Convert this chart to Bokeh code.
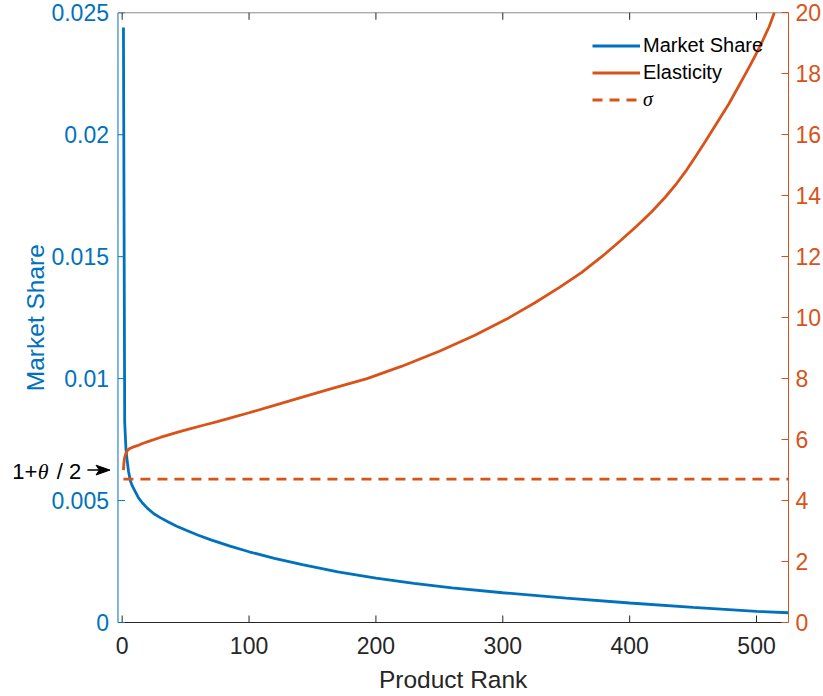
import math
from bokeh.plotting import figure
from bokeh.models import Range1d, LinearAxis, FixedTicker, Legend, LegendItem
from bokeh.core.properties import value
from bokeh.embed import file_html
from bokeh.resources import INLINE

# ---------------- data ----------------
share_rank = [1, 2, 3, 4, 5, 6.5, 8, 10, 13, 16, 20, 25, 30, 36, 43, 50, 60, 70,
              85, 100, 120, 142, 170, 200, 230, 260, 300, 350, 400, 450, 500, 525]
market_share = [0.0244, 0.0082, 0.0071, 0.0066, 0.0062, 0.0058, 0.0056, 0.0054,
                0.0051, 0.0049, 0.00468, 0.00446, 0.0043, 0.00413, 0.00395,
                0.00379, 0.00358, 0.00339, 0.00313, 0.0029, 0.00263, 0.00237,
                0.00208, 0.00182, 0.0016, 0.00142, 0.00122, 0.00100, 0.00080,
                0.00062, 0.00046, 0.00040]

elast_rank = [1, 1.3, 1.7, 2.2, 3, 4, 6, 9, 12, 16, 22, 30, 38, 46, 54, 64, 75,
              87, 100, 120, 140, 165, 193, 220, 250, 278, 305, 325, 345, 362,
              378, 392, 405, 417, 428, 437, 445, 453, 460, 469, 478, 486, 494,
              500, 505, 510, 514]
elasticity = [5.0, 5.2, 5.35, 5.45, 5.55, 5.64, 5.71, 5.76, 5.80, 5.87, 5.96,
              6.07, 6.17, 6.27, 6.36, 6.47, 6.59, 6.73, 6.88, 7.12, 7.37, 7.67,
              8.0, 8.4, 8.9, 9.42, 10.0, 10.48, 11.0, 11.48, 12.0, 12.5, 12.98,
              13.46, 13.95, 14.4, 14.85, 15.35, 15.8, 16.4, 17.0, 17.6, 18.2,
              18.68, 19.1, 19.55, 20.0]

sigma_rank = [1, 525]
sigma_value = [4.70, 4.70]

x_ticks = [0, 100, 200, 300, 400, 500]
x_tick_labels = ["0", "100", "200", "300", "400", "500"]
share_ticks = [0, 0.005, 0.01, 0.015, 0.02, 0.025]
share_tick_labels = ["0", "0.005", "0.01", "0.015", "0.02", "0.025"]
elast_ticks = [0, 2, 4, 6, 8, 10, 12, 14, 16, 18, 20]

theta_note_value = 5.0  # elasticity level pointed at by the "1+θ / 2" arrow

# axes extents (data limits of the boxed area)
X_MIN, X_MAX = -3.3, 525
SHARE_MAX = 0.025
ELAST_MAX = 20

BLUE = "#0072BD"
ORANGE = "#D95319"
DARK = "#262626"
FONT = "Liberation Sans"
SERIF = "Liberation Serif"

# The frame spans the left and bottom margins so the left/bottom axis texts and
# the annotation can be drawn inside it; the boxed region is drawn explicitly.
p = figure(frame_width=788, frame_height=694,
           x_range=Range1d(-95.9, 525.2), y_range=Range1d(-0.002952, 0.025504),
           x_axis_location=None, y_axis_location=None,
           output_backend="svg", toolbar_location=None,
           min_border_left=0, min_border_top=0, min_border_right=0,
           min_border_bottom=0)
p.extra_y_ranges = {"right": Range1d(-2.362, 20.404)}
p.outline_line_color = None
p.grid.grid_line_color = None
p.background_fill_color = "white"
p.border_fill_color = "white"

# right (Elasticity) axis
ra = LinearAxis(y_range_name="right", ticker=FixedTicker(ticks=elast_ticks))
ra.bounds = (0, ELAST_MAX)
ra.axis_line_color = ORANGE
ra.major_tick_line_color = ORANGE
ra.major_label_text_color = ORANGE
ra.major_tick_in = 7
ra.major_tick_out = 0
ra.minor_tick_line_color = None
ra.major_label_standoff = 7
ra.major_label_text_font = FONT
ra.major_label_text_font_size = "23px"
p.add_layout(ra, "right")

# bottom (Product Rank) axis drawn explicitly
p.segment(x0=[X_MIN], y0=[0], x1=[X_MAX], y1=[0], line_color=DARK, line_width=1)
p.ray(x=x_ticks, y=[0] * len(x_ticks), length=7, length_units="screen",
      angle=math.pi / 2, line_color=DARK, line_width=1)
p.text(x=x_ticks, y=[0] * len(x_ticks), text=x_tick_labels, y_offset=23,
       text_align="center", text_baseline="middle",
       text_font=value(FONT), text_font_size="23px", text_color=DARK)
p.text(x=[(X_MIN + X_MAX) / 2], y=[0], text=["Product Rank"], y_offset=57,
       text_align="center", text_baseline="middle",
       text_font=value(FONT), text_font_size="24.5px", text_color=DARK)

# left (Market Share) axis drawn explicitly
p.segment(x0=[X_MIN], y0=[0], x1=[X_MIN], y1=[SHARE_MAX],
          line_color=BLUE, line_width=1)
p.ray(x=[X_MIN] * len(share_ticks), y=share_ticks, length=7,
      length_units="screen", angle=0, line_color=BLUE, line_width=1)
p.text(x=[X_MIN] * len(share_ticks), y=share_ticks, text=share_tick_labels,
       x_offset=-9, text_align="right", text_baseline="middle",
       text_font=value(FONT), text_font_size="23px", text_color=BLUE)
p.text(x=[-68.3], y=[SHARE_MAX / 2], text=["Market Share"], angle=math.pi / 2,
       text_align="center", text_baseline="middle",
       text_font=value(FONT), text_font_size="24.5px", text_color=BLUE)

# top edge of the box with inward ticks
p.segment(x0=[X_MIN], y0=[SHARE_MAX], x1=[X_MAX], y1=[SHARE_MAX],
          line_color="#8a8a8a", line_width=1)
p.ray(x=x_ticks, y=[SHARE_MAX] * len(x_ticks), length=7, length_units="screen",
      angle=-math.pi / 2, line_color=DARK, line_width=1)

# data
r_share = p.line(share_rank, market_share, line_color=BLUE, line_width=2.8)
r_el = p.line(elast_rank, elasticity, line_color=ORANGE, line_width=2.8,
              y_range_name="right")
r_sig = p.line(sigma_rank, sigma_value, line_color=ORANGE, line_width=2.8,
               line_dash="10 7", y_range_name="right")

# annotation "1+θ / 2" with arrow
for txt, xpos, fnt, sty in [("1+", -86.7, FONT, "normal"),
                            ("θ", -66.5, SERIF, "italic"),
                            ("/ 2", -51.5, FONT, "normal")]:
    p.text(x=[xpos], y=[4.95], text=[txt], y_range_name="right",
           text_font=value(fnt), text_font_style=sty, text_font_size="22px",
           text_align="left", text_baseline="middle", text_color="black")
p.segment(x0=[-27.4], y0=[theta_note_value], x1=[-18.0],
          y1=[theta_note_value], y_range_name="right",
          line_color="black", line_width=1.5)
p.patch(x=[-9.6, -20.6, -18.0, -20.6],
        y=[theta_note_value, theta_note_value + 0.16, theta_note_value,
           theta_note_value - 0.16],
        y_range_name="right", fill_color="black", line_color="black",
        line_width=1)

# legends
common = dict(orientation="vertical", border_line_color=None,
              background_fill_alpha=0, glyph_width=48, glyph_height=23,
              label_height=23, spacing=4, padding=0, margin=0, label_standoff=3,
              label_text_font_size="20px", label_text_color="black",
              label_text_baseline="middle")
leg1 = Legend(items=[LegendItem(label="Market Share", renderers=[r_share]),
                     LegendItem(label="Elasticity", renderers=[r_el])],
              location=(592, 610), label_text_font=FONT, **common)
leg2 = Legend(items=[LegendItem(label="σ", renderers=[r_sig])],
              location=(592, 583), label_text_font=SERIF,
              label_text_font_style="italic", **common)
p.add_layout(leg1, "center")
p.add_layout(leg2, "center")

open("out.html", "w").write(file_html(p, INLINE))
